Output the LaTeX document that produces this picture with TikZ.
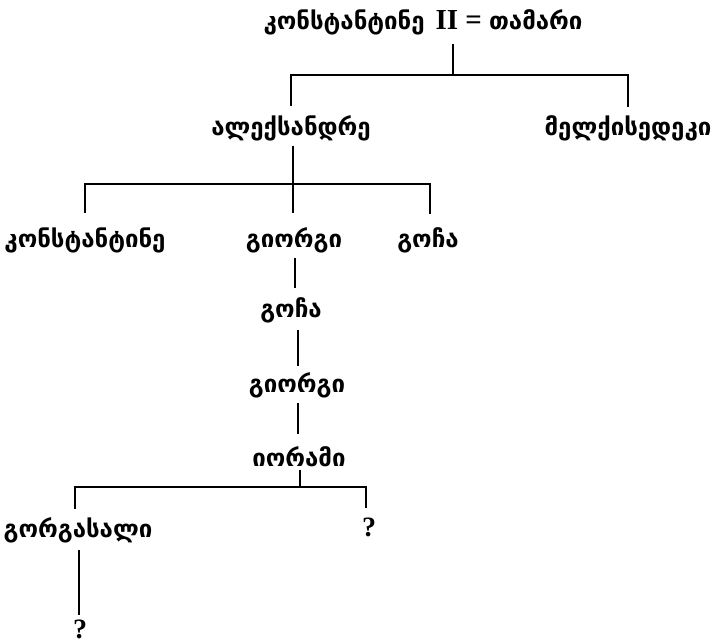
\documentclass[tikz,border=0pt]{standalone}
\usepackage{fontspec}
\newfontfamily\geo{DejaVu Sans}
\newfontfamily\lserif{Liberation Serif}
\begin{document}
\begin{tikzpicture}[x=1pt,y=-1pt,
  nm/.style={inner sep=0pt,font=\geo\bfseries\fontsize{24}{28}\selectfont},
  qm/.style={inner sep=0pt,font=\lserif\bfseries\fontsize{28}{32}\selectfont},
  ln/.style={line width=2.8pt}]
\useasboundingbox (0,0) rectangle (724,644);
% nodes
\node[nm] (top) at (423,22) {კონსტანტინე\hspace{0.45em}{\lserif\fontsize{29}{32}\selectfont\bfseries II = }თამარი};
\node[nm] (alex) at (291,128) {ალექსანდრე};
\node[nm] (melk) at (628,128) {მელქისედეკი};
\node[nm] (kon) at (85,240) {კონსტანტინე};
\node[nm] (gio1) at (294,240) {გიორგი};
\node[nm] (goch1) at (428,240) {გოჩა};
\node[nm] (goch2) at (291,310) {გოჩა};
\node[nm] (gio2) at (297,385) {გიორგი};
\node[nm] (ior) at (299,457) {იორამი};
\node[nm] (gorg) at (78,530) {გორგასალი};
\node[qm] (q1) at (369,527) {?};
\node[qm] (q2) at (80,629) {?};
% junction coordinates
\coordinate (t0) at (453,44);
\coordinate (t1) at (453,75);
\coordinate (a1) at (291,75);
\coordinate (a2) at (291,106);
\coordinate (m1) at (628,75);
\coordinate (m2) at (628,107);
\coordinate (b0) at (293,146);
\coordinate (b1) at (293,184);
\coordinate (k1) at (85,184);
\coordinate (k2) at (85,213);
\coordinate (g2) at (293,213);
\coordinate (c1) at (430,184);
\coordinate (c2) at (430,214);
\coordinate (d0) at (295,258);
\coordinate (d1) at (295,288);
\coordinate (e0) at (298,330);
\coordinate (e1) at (298,366);
\coordinate (f0) at (298,403);
\coordinate (f1) at (298,434);
\coordinate (h0) at (300,470);
\coordinate (h1) at (300,487);
\coordinate (l1) at (75,487);
\coordinate (l2) at (75,509);
\coordinate (r1) at (366,487);
\coordinate (r2) at (366,508);
\coordinate (v0) at (79,550);
\coordinate (v1) at (79,615);
% connectors
\draw[ln] (t0) -- (t1);
\draw[ln] (a2) -- (a1) -- (m1) -- (m2);
\draw[ln] (b0) -- (b1);
\draw[ln] (k2) -- (k1) -- (c1) -- (c2);
\draw[ln] (b1) -- (g2);
\draw[ln] (d0) -- (d1);
\draw[ln] (e0) -- (e1);
\draw[ln] (f0) -- (f1);
\draw[ln] (h0) -- (h1);
\draw[ln] (l2) -- (l1) -- (r1) -- (r2);
\draw[ln] (v0) -- (v1);
\end{tikzpicture}
\end{document}
